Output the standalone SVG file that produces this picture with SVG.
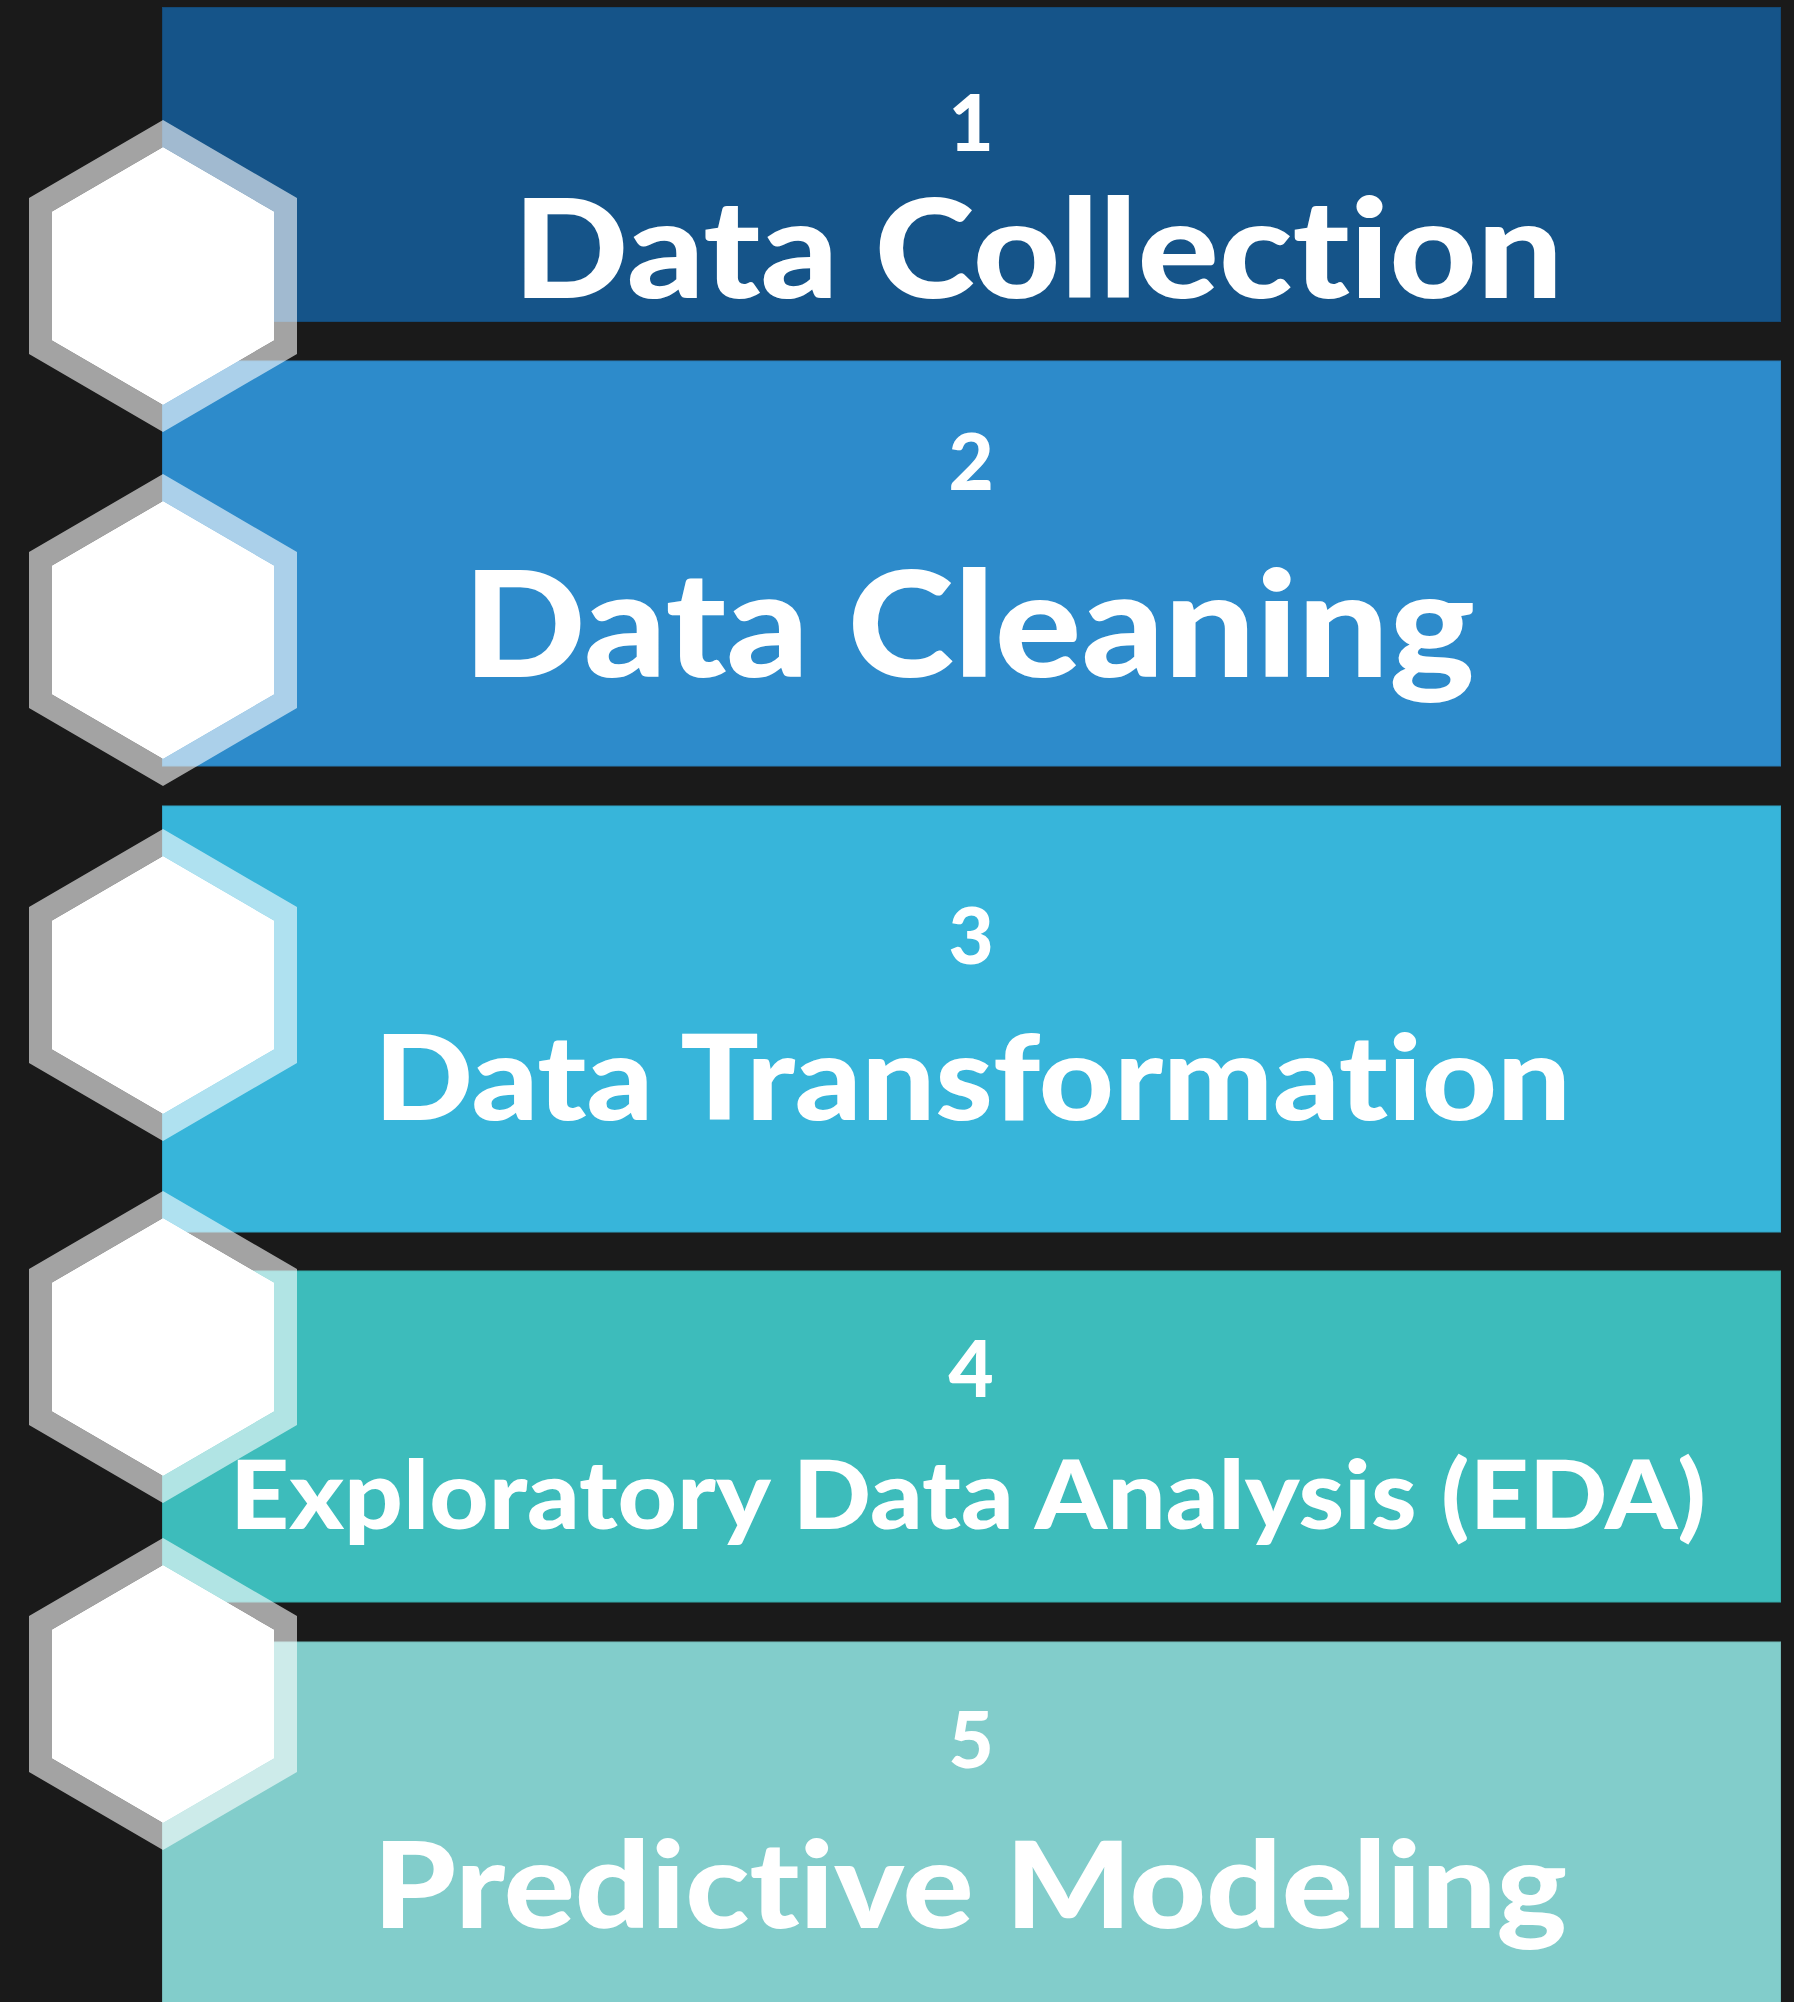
<svg xmlns="http://www.w3.org/2000/svg" xmlns:xlink="http://www.w3.org/1999/xlink" width="1794" height="2002" viewBox="0 0 1794 2002">
  <style>
    .num { font-family: Lato, "Open Sans", "Liberation Sans", sans-serif; font-weight: 900; fill: #ffffff; text-anchor: middle; font-size: 78px; }
    .title { font-family: Lato, "Open Sans", "Liberation Sans", sans-serif; font-weight: 900; fill: #ffffff; font-variant-ligatures: none; font-feature-settings: "liga" 0, "clig" 0; }
    .ring { fill: #ffffff; fill-opacity: 0.6; fill-rule: evenodd; }
    .core { fill: #ffffff; }
  </style>
  <defs>
    <g id="hex">
      <path class="ring" d="M0,-156 L134,-78 L134,78 L0,156 L-134,78 L-134,-78 Z M0,-129 L111,-64.5 L111,64.5 L0,129 L-111,64.5 L-111,-64.5 Z"/>
      <polygon class="core" points="0,-129 111,-64.5 111,64.5 0,129 -111,64.5 -111,-64.5"/>
    </g>
  </defs>
  <rect x="0" y="0" width="1794" height="2002" fill="#1a1a1a"/>

  <g id="bands">
    <rect id="band1" x="162.5" y="7.5" width="1618" height="314" fill="#155489" stroke="#134a78" stroke-width="1"/>
    <rect id="band2" x="162.5" y="361" width="1618" height="405" fill="#2d8bcb" stroke="#2a7db5" stroke-width="1"/>
    <rect id="band3" x="162.5" y="806" width="1618" height="426" fill="#37b5da" stroke="#32a3c4" stroke-width="1"/>
    <rect id="band4" x="162.5" y="1271" width="1618" height="331" fill="#3dbcbb" stroke="#37a9a8" stroke-width="1"/>
    <rect id="band5" x="162.5" y="1642" width="1618" height="370" fill="#82cdcb" stroke="#75b9b7" stroke-width="1"/>
  </g>

  <g id="connectors"></g>

  <g id="node1">
    <use xlink:href="#hex" href="#hex" transform="translate(163,276)"/>
    <text class="num" x="971" y="151">1</text>
    <text class="title" x="513" y="298" font-size="138" textLength="1050" lengthAdjust="spacingAndGlyphs">Data Collection</text>
  </g>
  <g id="node2">
    <use xlink:href="#hex" href="#hex" transform="translate(163,630)"/>
    <text class="num" x="971" y="490">2</text>
    <text class="title" x="463" y="677" font-size="147" textLength="1012" lengthAdjust="spacingAndGlyphs">Data Cleaning</text>
  </g>
  <g id="node3">
    <use xlink:href="#hex" href="#hex" transform="translate(163,985)"/>
    <text class="num" x="971" y="964">3</text>
    <text class="title" x="374" y="1120" font-size="119" textLength="1197" lengthAdjust="spacingAndGlyphs">Data Transformation</text>
  </g>
  <g id="node4">
    <use xlink:href="#hex" href="#hex" transform="translate(163,1347)"/>
    <text class="num" x="971" y="1397">4</text>
    <text class="title" x="230" y="1529" font-size="95" textLength="1476" lengthAdjust="spacingAndGlyphs">Exploratory Data Analysis (EDA)</text>
  </g>
  <g id="node5">
    <use xlink:href="#hex" href="#hex" transform="translate(163,1694)"/>
    <text class="num" x="971" y="1768">5</text>
    <text class="title" x="373" y="1928" font-size="120" textLength="1194" lengthAdjust="spacingAndGlyphs">Predictive Modeling</text>
  </g>
</svg>
